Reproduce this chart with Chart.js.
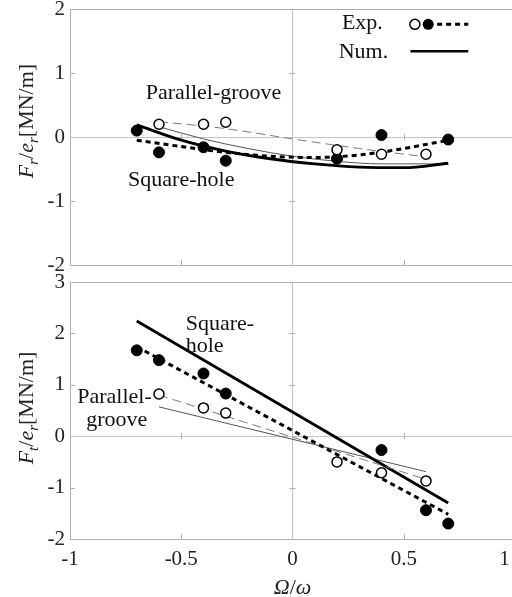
<!DOCTYPE html>
<html>
<head>
<meta charset="utf-8">
<script src="https://cdn.jsdelivr.net/npm/chart.js@4.4.1/dist/chart.umd.min.js"></script>
<style>
  html, body { margin: 0; padding: 0; background: #fff; overflow: hidden; width: 512px; height: 597px; }
  .panel { position: absolute; left: 0; width: 530px; }
  #top { top: 0; height: 280px; }
  #bottom { top: 270px; height: 327px; }
</style>
</head>
<body>
<div class="panel" id="top"><canvas id="chartTop"></canvas></div>
<div class="panel" id="bottom"><canvas id="chartBottom"></canvas></div>
<script>
// ---- data ----
// top panel : Fr/er
const topSquareX = [-0.7, -0.6, -0.4, -0.3, 0.2, 0.4, 0.7];
const topSquareY = [0.10, -0.24, -0.16, -0.37, -0.34, 0.03, -0.04];
const topGrooveX = [-0.6, -0.4, -0.3, 0.2, 0.4, 0.6];
const topGrooveY = [0.20, 0.20, 0.23, -0.20, -0.27, -0.27];

const topSquareExpFitX = [-0.7, -0.5, -0.3, -0.1, 0.1, 0.3, 0.5, 0.7];
const topSquareExpFitY = [-0.05, -0.15, -0.24, -0.30, -0.32, -0.28, -0.18, -0.05];
const topGrooveExpFitX = [-0.6, -0.3, 0, 0.3, 0.6];
const topGrooveExpFitY = [0.24, 0.13, -0.03, -0.18, -0.31];
const topSquareNumX = [-0.7, -0.5, -0.3, -0.1, 0.1, 0.3, 0.5, 0.7];
const topSquareNumY = [0.19, -0.05, -0.22, -0.34, -0.42, -0.47, -0.48, -0.41];
const topGrooveNumX = [-0.6, -0.4, -0.2, 0, 0.2, 0.4, 0.7];
const topGrooveNumY = [0.16, -0.03, -0.18, -0.30, -0.38, -0.42, -0.42];

// bottom panel : Ft/er
const botSquareX = [-0.7, -0.6, -0.4, -0.3, 0.4, 0.6, 0.7];
const botSquareY = [1.67, 1.48, 1.22, 0.83, -0.27, -1.44, -1.70];
const botGrooveX = [-0.6, -0.4, -0.3, 0.2, 0.4, 0.6];
const botGrooveY = [0.82, 0.55, 0.45, -0.50, -0.71, -0.87];

const botSquareExpFitX = [-0.7, 0.7];
const botSquareExpFitY = [1.74, -1.52];
const botGrooveExpFitX = [-0.6, 0.6];
const botGrooveExpFitY = [0.80, -0.84];
const botSquareNumX = [-0.7, 0.7];
const botSquareNumY = [2.24, -1.30];
const botGrooveNumX = [-0.6, 0.6];
const botGrooveNumY = [0.57, -0.69];

const xTicks = [-1, -0.5, 0, 0.5, 1];
const topYTicks = [-2, -1, 0, 1, 2];
const botYTicks = [-2, -1, 0, 1, 2, 3];

// ---- helpers ----
const SERIF = "'Liberation Serif', 'Times New Roman', serif";
const AXIS_GRAY = '#b0b0b0';

function pts(xs, ys) {
    return xs.map((x, i) => ({ x: x, y: ys[i] }));
}

function markerSet(xs, ys, filled) {
    return {
        data: pts(xs, ys),
        showLine: false,
        pointRadius: filled ? 5.5 : 5,
        pointBackgroundColor: filled ? '#000' : '#fff',
        pointBorderColor: '#000',
        pointBorderWidth: filled ? 1 : 1.5
    };
}

function lineSet(xs, ys, style) {
    const s = {
        data: pts(xs, ys),
        showLine: true,
        pointRadius: 0,
        tension: 0.35,
        cubicInterpolationMode: 'monotone'
    };
    if (style === 'thick') { s.borderColor = '#000'; s.borderWidth = 2.8; }
    if (style === 'thickDash') { s.borderColor = '#000'; s.borderWidth = 3; s.borderDash = [5, 4]; }
    if (style === 'thin') { s.borderColor = '#555'; s.borderWidth = 1; }
    if (style === 'thinDash') { s.borderColor = '#7a7a7a'; s.borderWidth = 1; s.borderDash = [9, 5]; }
    return s;
}

// draw text made of parts (italic / subscript) starting from x, baseline y
function drawRich(ctx, parts, x, y, size, align) {
    const fontOf = p => (p.italic ? 'italic ' : '') + (p.sub ? Math.round(size * 0.68) : size) + 'px ' + SERIF;
    let total = 0;
    parts.forEach(p => { ctx.font = fontOf(p); total += ctx.measureText(p.t).width; });
    let cx = align === 'center' ? x - total / 2 : (align === 'right' ? x - total : x);
    ctx.textAlign = 'left';
    ctx.textBaseline = 'alphabetic';
    parts.forEach(p => {
        ctx.font = fontOf(p);
        ctx.fillText(p.t, cx, y + (p.sub ? size * 0.22 : 0));
        cx += ctx.measureText(p.t).width;
    });
}

const decor = {
    id: 'decor',
    beforeDatasetsDraw(chart) {
        const { ctx, chartArea: a, scales: { x, y } } = chart;
        const x0 = x.getPixelForValue(0);
        const y0 = y.getPixelForValue(0);
        ctx.save();
        ctx.strokeStyle = AXIS_GRAY;
        ctx.lineWidth = 1;
        ctx.beginPath();
        x.ticks.forEach(t => {
            if (t.value <= x.min || t.value >= x.max || t.value === 0) return;
            const px = Math.round(x.getPixelForValue(t.value)) + 0.5;
            ctx.moveTo(px, a.bottom); ctx.lineTo(px, a.bottom - 5);
            ctx.moveTo(px, y0 - 3); ctx.lineTo(px, y0 + 3);
        });
        y.ticks.forEach(t => {
            if (t.value <= y.min || t.value >= y.max || t.value === 0) return;
            const py = Math.round(y.getPixelForValue(t.value)) + 0.5;
            ctx.moveTo(a.left, py); ctx.lineTo(a.left + 5, py);
            ctx.moveTo(x0 - 3, py); ctx.lineTo(x0 + 3, py);
        });
        ctx.stroke();
        ctx.restore();
    },
    afterDraw(chart, args, opts) {
        const { ctx, scales: { x, y } } = chart;
        ctx.save();
        ctx.fillStyle = '#111';
        // notes in data coordinates
        (opts.notes || []).forEach(n => {
            ctx.font = '22px ' + SERIF;
            ctx.textAlign = n.align;
            ctx.textBaseline = 'middle';
            ctx.fillText(n.text, x.getPixelForValue(n.x), y.getPixelForValue(n.y));
        });
        // legend marks
        if (opts.legend) {
            const L = opts.legend;
            const ly1 = y.getPixelForValue(L.expY);
            ctx.lineWidth = 1.5;
            ctx.strokeStyle = '#000';
            ctx.beginPath();
            ctx.arc(x.getPixelForValue(L.openX), ly1, 5, 0, Math.PI * 2);
            ctx.fillStyle = '#fff'; ctx.fill(); ctx.stroke();
            ctx.beginPath();
            ctx.arc(x.getPixelForValue(L.filledX), ly1, 5.5, 0, Math.PI * 2);
            ctx.fillStyle = '#000'; ctx.fill();
            ctx.lineWidth = 3;
            ctx.setLineDash([5, 4]);
            ctx.beginPath();
            ctx.moveTo(x.getPixelForValue(L.dashFrom), ly1);
            ctx.lineTo(x.getPixelForValue(L.dashTo), ly1);
            ctx.stroke();
            ctx.setLineDash([]);
            ctx.lineWidth = 2.5;
            const ly2 = y.getPixelForValue(L.numY);
            ctx.beginPath();
            ctx.moveTo(x.getPixelForValue(L.solidFrom), ly2);
            ctx.lineTo(x.getPixelForValue(L.solidTo), ly2);
            ctx.stroke();
        }
        ctx.fillStyle = '#222';
        // y title, rotated
        if (opts.yTitle) {
            ctx.save();
            ctx.translate(opts.yTitle.x, opts.yTitle.y);
            ctx.rotate(-Math.PI / 2);
            drawRich(ctx, [
                { t: 'F', italic: true }, { t: opts.yTitle.sub, italic: true, sub: true },
                { t: '/' }, { t: 'e', italic: true }, { t: 'r', italic: true, sub: true },
                { t: '[MN/m]' }
            ], 0, 7, 22, 'center');
            ctx.restore();
        }
        if (opts.xTitle) {
            drawRich(ctx, [{ t: 'Ω', italic: true }, { t: '/' }, { t: 'ω', italic: true }],
                x.getPixelForValue(0), opts.xTitle.y, 22, 'center');
        }
        ctx.restore();
    }
};

function makeOptions(yMin, yMax, showX, pad, extra) {
    const tickFont = { family: SERIF, size: 21 };
    return {
        responsive: true,
        maintainAspectRatio: false,
        animation: false,
        layout: { padding: pad },
        plugins: {
            legend: { display: false },
            tooltip: { enabled: false },
            decor: extra
        },
        scales: {
            x: {
                type: 'linear', min: -1, max: 1,
                afterBuildTicks: s => { s.ticks = xTicks.map(v => ({ value: v })); },
                ticks: {
                    display: showX, color: '#222', font: tickFont, padding: 8,
                    maxRotation: 0,
                    callback: v => (v === 1 ? '1\u2007\u2007' : String(v))
                },
                grid: {
                    drawTicks: false,
                    color: c => (c.tick && c.tick.value === 0 ? '#c4c4c4' : 'rgba(0,0,0,0)')
                },
                border: { color: AXIS_GRAY },
                afterFit: s => { s.height = showX ? 58 : 0; s.paddingLeft = 0; s.paddingRight = 0; }
            },
            xTop: {
                type: 'linear', position: 'top', min: -1, max: 1,
                ticks: { display: false },
                grid: { display: false, drawTicks: false },
                border: { color: AXIS_GRAY },
                afterFit: s => { s.height = 0; s.paddingLeft = 0; s.paddingRight = 0; }
            },
            y: {
                type: 'linear', min: yMin, max: yMax,
                afterBuildTicks: s => {
                    const list = yMax === 3 ? botYTicks : topYTicks;
                    s.ticks = list.map(v => ({ value: v }));
                },
                ticks: { color: '#222', font: tickFont, padding: 5 },
                grid: {
                    drawTicks: false,
                    color: c => (c.tick && c.tick.value === 0 ? '#c4c4c4' : 'rgba(0,0,0,0)')
                },
                border: { color: AXIS_GRAY },
                afterFit: s => { s.width = 70; s.paddingTop = 0; s.paddingBottom = 0; }
            }
        }
    };
}

const topChart = new Chart(document.getElementById('chartTop'), {
    type: 'scatter',
    data: {
        datasets: [
            markerSet(topGrooveX, topGrooveY, false),
            markerSet(topSquareX, topSquareY, true),
            lineSet(topSquareExpFitX, topSquareExpFitY, 'thickDash'),
            lineSet(topGrooveExpFitX, topGrooveExpFitY, 'thinDash'),
            lineSet(topSquareNumX, topSquareNumY, 'thick'),
            lineSet(topGrooveNumX, topGrooveNumY, 'thin')
        ]
    },
    options: makeOptions(-2, 2, false, { top: 9, bottom: 15, left: 0, right: 15 }, {
        notes: [
            { text: 'Parallel-groove', x: -0.355, y: 0.68, align: 'center' },
            { text: 'Square-hole', x: -0.50, y: -0.68, align: 'center' },
            { text: 'Exp.', x: 0.406, y: 1.78, align: 'right' },
            { text: 'Num.', x: 0.43, y: 1.33, align: 'right' }
        ],
        legend: {
            expY: 1.76, openX: 0.55, filledX: 0.61, dashFrom: 0.65, dashTo: 0.79,
            numY: 1.34, solidFrom: 0.53, solidTo: 0.79
        },
        yTitle: { x: 26, y: 121, sub: 'r' }
    }),
    plugins: [decor]
});

const bottomChart = new Chart(document.getElementById('chartBottom'), {
    type: 'scatter',
    data: {
        datasets: [
            markerSet(botGrooveX, botGrooveY, false),
            markerSet(botSquareX, botSquareY, true),
            lineSet(botSquareExpFitX, botSquareExpFitY, 'thickDash'),
            lineSet(botGrooveExpFitX, botGrooveExpFitY, 'thinDash'),
            lineSet(botSquareNumX, botSquareNumY, 'thick'),
            lineSet(botGrooveNumX, botGrooveNumY, 'thin')
        ]
    },
    options: makeOptions(-2, 3, true, { top: 12, bottom: 0, left: 0, right: 15 }, {
        notes: [
            { text: 'Square-', x: -0.48, y: 2.17, align: 'left' },
            { text: 'hole', x: -0.48, y: 1.75, align: 'left' },
            { text: 'Parallel-', x: -0.80, y: 0.75, align: 'center' },
            { text: 'groove', x: -0.79, y: 0.32, align: 'center' }
        ],
        yTitle: { x: 26, y: 138, sub: 't' },
        xTitle: { y: 324 }
    }),
    plugins: [decor]
});
</script>
</body>
</html>
